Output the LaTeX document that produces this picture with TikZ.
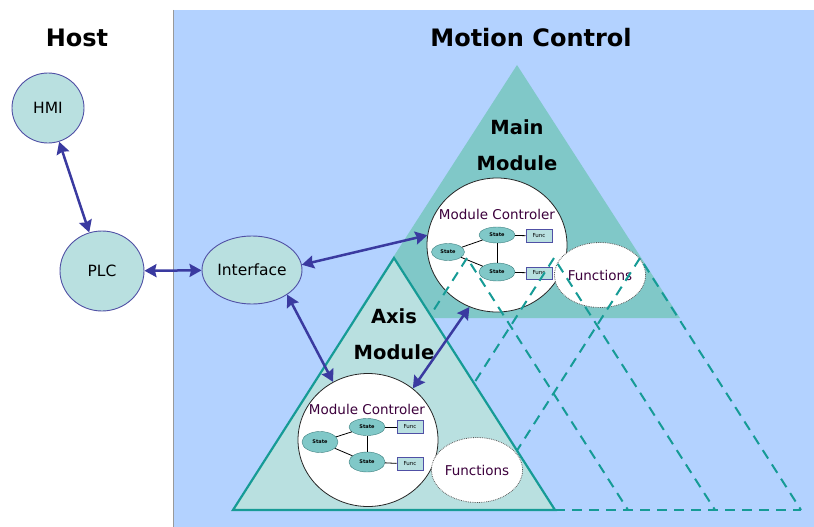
\documentclass[tikz,border=0pt]{standalone}
\usepackage{fontspec}
\setmainfont{DejaVu Sans}
\usetikzlibrary{positioning, shapes.geometric, arrows.meta}

\definecolor{bgblue}{RGB}{179,210,255}
\definecolor{mainteal}{RGB}{128,200,200}
\definecolor{axisteal}{RGB}{185,224,224}
\definecolor{tealline}{RGB}{22,155,150}
\definecolor{nodeedge}{RGB}{80,80,165}
\definecolor{arrowblue}{RGB}{58,58,160}
\definecolor{stateedge}{RGB}{62,128,128}
\definecolor{ctlink}{RGB}{60,0,60}

\begin{document}
\begin{tikzpicture}[
    x=1pt, y=-1pt,
    >=Stealth,
    hostnode/.style={
        draw=nodeedge,
        line width=0.9pt,
        ellipse,
        fill=axisteal,
        inner sep=0pt,
        font=\fontsize{15.5}{16}\selectfont
    },
    title/.style={
        font=\bfseries\fontsize{24}{26}\selectfont
    },
    modlabel/.style={
        align=center,
        font=\bfseries\fontsize{19.5}{36}\selectfont
    },
    ctlcircle/.style={
        draw=black!85,
        ellipse,
        fill=white,
        thick,
        minimum width=140pt,
        minimum height=134pt
    },
    ctltitle/.style={
        text=ctlink,
        inner sep=0pt,
        font=\fontsize{13.5}{14}\selectfont
    },
    funccircle/.style={
        draw=black!65,
        line width=0.8pt,
        densely dotted,
        ellipse,
        fill=white,
        inner sep=0pt,
        minimum width=68pt,
        minimum height=65pt,
        text=ctlink,
        font=\fontsize{13.5}{14}\selectfont
    },
    statenode/.style={
        draw=stateedge,
        ellipse,
        fill=mainteal,
        inner sep=0pt,
        minimum width=36pt,
        minimum height=18pt,
        font=\bfseries\fontsize{5}{5}\selectfont
    },
    funcbox/.style={
        draw=nodeedge,
        rectangle,
        fill=axisteal,
        line width=1pt,
        inner sep=0pt,
        minimum width=26pt,
        minimum height=13pt,
        font=\fontsize{5.5}{6}\selectfont
    },
    link/.style={black, line width=0.8pt},
    dblarrow/.style={
        >={Stealth[length=12pt, width=13pt, inset=1.5pt]},
        <->,
        arrowblue,
        line width=2.5pt
    },
    dashtri/.style={tealline, line width=2pt, dash pattern=on 10pt off 7pt}
]

\useasboundingbox (0,0) rectangle (814,527);

% Motion control area
\fill[bgblue] (173,10) rectangle (814,527);
\draw[gray!80, line width=0.8pt] (173,10) -- (173,527);

% Titles
\node[title] (host) at (77,38) {Host};
\node[title] (motion) at (531,38) {Motion Control};

% Main module triangle
\fill[mainteal] (517,65) -- (354,318) -- (680,318) -- cycle;
\node[modlabel] (mainlbl) at (517,145) {Main\\Module};

% Main module controller
\node[ctlcircle] (mainctl) at (497,245) {};
\node[ctltitle] (mainctltitle) at (497,214) {Module Controler};
\node[statenode, minimum width=33pt, minimum height=17pt] (mstatel) at (448,252) {State};
\node[statenode, minimum height=16pt] (mstatet) at (497,235) {State};
\node[statenode] (mstateb) at (497,272) {State};
\node[funcbox] (mfunct) at (539,236) {Func};
\node[funcbox, minimum height=12pt] (mfuncb) at (539,273) {Func};
\draw[link] (mstatel) -- (mstatet);
\draw[link] (mstatel) -- (mstateb);
\draw[link] (mstatet) -- (mstateb);
\draw[link] (mstatet) -- (mfunct);
\draw[link] (mstateb) -- (mfuncb);

\node[funccircle] (mainfunc) at (600,275) {Functions};

% Further axis modules (dashed)
\draw[dashtri] (306,510) -- (467,258) -- (628,510);
\draw[dashtri] (393,510) -- (554,258) -- (715,510);
\draw[dashtri] (479,510) -- (640,258) -- (801,510);
\draw[dashtri] (555,510) -- (801,510);

% Axis module triangle
\filldraw[fill=axisteal, draw=tealline, line width=2.2pt] (394,258) -- (233,510) -- (555,510) -- cycle;
\node[modlabel] (axislbl) at (394,334) {Axis\\Module};

% Axis module controller
\node[ctlcircle, minimum height=133pt] (axisctl) at (368,440) {};
\node[ctltitle] (axisctltitle) at (367,409) {Module Controler};
\node[statenode, minimum height=21pt] (astatel) at (320,442) {State};
\node[statenode, minimum height=17pt] (astatet) at (367,427) {State};
\node[statenode, minimum height=20pt] (astateb) at (367,462) {State};
\node[funcbox] (afunct) at (410,427) {Func};
\node[funcbox] (afuncb) at (410,464) {Func};
\draw[link] (astatel) -- (astatet);
\draw[link] (astatel) -- (astateb);
\draw[link] (astatet) -- (astateb);
\draw[link] (astatet) -- (afunct);
\draw[link] (astateb) -- (afuncb);

\node[funccircle] (axisfunc) at (477,470) {Functions};

% Host side
\node[hostnode, minimum width=72pt, minimum height=70pt] (hmi) at (48,108) {HMI};
\node[hostnode, minimum width=84pt, minimum height=80pt] (plc) at (102,271) {PLC};
\node[hostnode, minimum width=100pt, minimum height=68pt] (iface) at (252,270) {Interface};

% Connections
\draw[dblarrow] (hmi) -- (plc);
\draw[dblarrow] (plc) -- (iface);
\draw[dblarrow] (iface.6) -- (mainctl.172);
\draw[dblarrow] (iface.-35) -- (axisctl.121);
\draw[dblarrow] (mainctl.246) -- (axisctl.49);

\end{tikzpicture}
\end{document}
